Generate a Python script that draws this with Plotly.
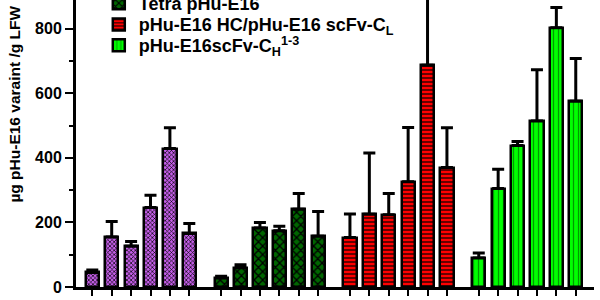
import plotly.graph_objects as go

# ---- data ----
series_names = [
    "pHu-E16",
    "Tetra pHu-E16",
    "pHu-E16 HC/pHu-E16 scFv-C<sub>L</sub>",
    "pHu-E16scFv-C<sub>H</sub><sup>1-3</sup>",
]
purple_vals = [45, 155, 126, 246, 429, 166]
purple_err = [8, 48, 15, 38, 64, 31]
tetra_vals = [28, 60, 183, 174, 241, 157]
tetra_err = [5, 9, 17, 14, 49, 77]
red_vals = [153, 225, 224, 326, 687, 370]
red_err = [73, 190, 66, 168, 300, 123]
green_vals = [90, 305, 438, 514, 803, 575]
green_err = [15, 60, 13, 159, 63, 133]

y_tick_vals = [0, 200, 400, 600, 800]
y_minor_vals = [100, 300, 500, 700]
y_title = "µg pHu-E16 varaint /g LFW"

# ---- styling ----
GROUP_GAP = 0.64
FONT = "Arial, Liberation Sans, sans-serif"
styles = [
    dict(bg="#c45ee8", fg="#000000", shape="x", size=3, solidity=0.4),
    dict(bg="#006600", fg="#000000", shape="x", size=6, solidity=0.4),
    dict(bg="#ff0000", fg="#000000", shape="-", size=4, solidity=0.3),
    dict(bg="#00ff00", fg="#009900", shape="|", size=5, solidity=0.25),
]
legend_ids = ["legend", "legend2", "legend3", "legend4"]
legend_rows_y = [1.061, 0.988, 0.914, 0.841]  # paper y of each legend row

all_vals = [purple_vals, tetra_vals, red_vals, green_vals]
all_errs = [purple_err, tetra_err, red_err, green_err]

fig = go.Figure()
tick_positions = []
for g, (name, vals, errs, st) in enumerate(zip(series_names, all_vals, all_errs, styles)):
    xs = [g * (len(vals) + GROUP_GAP) + i for i in range(len(vals))]
    tick_positions += xs
    fig.add_trace(go.Bar(
        x=xs, y=vals, name=name, width=0.68, legend=legend_ids[g],
        marker=dict(
            color=st["bg"],
            line=dict(color="black", width=2.5),
            pattern=dict(shape=st["shape"], fgcolor=st["fg"], bgcolor=st["bg"],
                         size=st["size"], solidity=st["solidity"], fillmode="replace"),
        ),
        error_y=dict(type="data", symmetric=False, array=errs,
                     arrayminus=[0] * len(errs), color="black",
                     thickness=3, width=6),
    ))

legend_common = dict(
    xref="paper", yref="paper", x=0.044, xanchor="left", yanchor="middle",
    font=dict(family=FONT, size=18, color="black", weight="bold"),
    bgcolor="rgba(0,0,0,0)", itemwidth=30,
)
legend_layout = {lid: dict(legend_common, y=ly) for lid, ly in zip(legend_ids, legend_rows_y)}

fig.update_layout(
    width=600, height=300,
    margin=dict(l=76, r=6, t=0, b=13, autoexpand=False),
    plot_bgcolor="white", paper_bgcolor="white",
    showlegend=True,
    bargap=0,
    font=dict(family=FONT, color="black"),
    xaxis=dict(
        range=[-0.84, 25.86], showgrid=False, zeroline=False,
        showline=True, linecolor="black", linewidth=3,
        tickmode="array", tickvals=tick_positions, showticklabels=False,
        ticks="outside", ticklen=6, tickwidth=2, tickcolor="black",
    ),
    yaxis=dict(
        range=[0, 889], showgrid=False, zeroline=False,
        showline=True, linecolor="black", linewidth=3,
        tickmode="array", tickvals=y_tick_vals,
        ticks="outside", ticklen=8, tickwidth=2, tickcolor="black",
        tickfont=dict(family=FONT, size=16, color="black", weight="bold"),
        minor=dict(tickmode="array", tickvals=y_minor_vals, ticks="outside",
                   ticklen=4, tickwidth=2, tickcolor="black"),
    ),
    annotations=[dict(
        text=y_title, textangle=-90, xref="paper", yref="paper",
        x=-0.1178, y=0.639, xanchor="center", yanchor="middle", showarrow=False,
        font=dict(family=FONT, size=15.5, color="black", weight="bold"),
    )],
    **legend_layout,
)

fig.write_html("out.html")
